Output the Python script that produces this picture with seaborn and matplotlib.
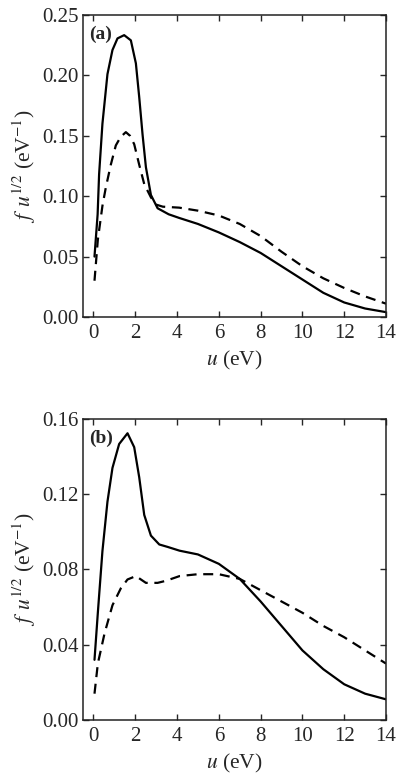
import matplotlib
matplotlib.use("Agg")
import matplotlib.pyplot as plt
import seaborn as sns

# Panel (a)
u_a_solid = [0.05, 0.2, 0.27, 0.43, 0.67, 0.91, 1.15, 1.47, 1.79, 2.03, 2.19, 2.35, 2.51, 2.75, 3.07, 3.6, 4.1,
             5.0, 6.0, 7.0, 8.0, 9.0, 10.0, 11.0, 12.0, 13.0, 14.0]
f_a_solid = [0.050, 0.085, 0.118, 0.160, 0.201, 0.221, 0.2306, 0.2333, 0.229, 0.210, 0.182, 0.151, 0.124, 0.101,
             0.090, 0.085, 0.082, 0.077, 0.070, 0.062, 0.053, 0.042, 0.031, 0.020, 0.012, 0.007, 0.004]
u_a_dash = [0.05, 0.21, 0.43, 0.59, 0.83, 1.07, 1.3, 1.55, 1.75, 1.95, 2.19, 2.43, 2.75, 3.0, 3.32, 4.1,
            5.0, 6.0, 7.0, 8.0, 9.0, 10.0, 11.0, 12.0, 13.0, 14.0]
f_a_dash = [0.030, 0.064, 0.092, 0.107, 0.126, 0.142, 0.149, 0.153, 0.150, 0.143, 0.126, 0.110, 0.099, 0.093,
            0.0913, 0.0905, 0.088, 0.084, 0.077, 0.067, 0.054, 0.042, 0.032, 0.024, 0.017, 0.011]

# Panel (b)
u_b_solid = [0.05, 0.21, 0.27, 0.43, 0.67, 0.91, 1.23, 1.63, 1.95, 2.19, 2.43, 2.75, 3.15, 3.55, 4.12,
             5.0, 6.0, 7.0, 8.0, 9.0, 10.0, 11.0, 12.0, 13.0, 14.0]
f_b_solid = [0.032, 0.057, 0.066, 0.0898, 0.116, 0.134, 0.1467, 0.1524, 0.145, 0.129, 0.109, 0.098, 0.0933, 0.092,
             0.090, 0.088, 0.083, 0.075, 0.063, 0.050, 0.037, 0.027, 0.019, 0.014, 0.011]
u_b_dash = [0.05, 0.21, 0.53, 0.91, 1.31, 1.63, 2.03, 2.51, 3.07, 3.47, 4.12,
            5.0, 6.0, 7.0, 8.0, 9.0, 10.0, 11.0, 12.0, 13.0, 14.0]
f_b_dash = [0.014, 0.030, 0.046, 0.061, 0.070, 0.0747, 0.0765, 0.0729, 0.0729, 0.074, 0.0765,
            0.0775, 0.0775, 0.075, 0.069, 0.063, 0.057, 0.050, 0.044, 0.037, 0.030]

x_ticks = [0, 2, 4, 6, 8, 10, 12, 14]
y_ticks_a = [0.00, 0.05, 0.10, 0.15, 0.20, 0.25]
y_ticks_b = [0.00, 0.04, 0.08, 0.12, 0.16]
panel_labels = ["(a)", "(b)"]

sns.set_style("ticks")
plt.rcParams["font.family"] = ["Liberation Serif", "DejaVu Serif"]
plt.rcParams["mathtext.fontset"] = "stix"
plt.rcParams["xtick.direction"] = "in"
plt.rcParams["ytick.direction"] = "in"
plt.rcParams["xtick.top"] = True
plt.rcParams["ytick.right"] = True

fig = plt.figure(figsize=(3.96, 7.84), dpi=100)
ax_a = fig.add_axes([0.2096, 0.5957, 0.7652, 0.3852])
ax_b = fig.add_axes([0.2096, 0.0816, 0.7652, 0.3840])

panels = [
    (ax_a, u_a_solid, f_a_solid, u_a_dash, f_a_dash, y_ticks_a, (0, 0.25)),
    (ax_b, u_b_solid, f_b_solid, u_b_dash, f_b_dash, y_ticks_b, (0, 0.16)),
]

for i, (ax, us, fs, ud, fd, yt, yl) in enumerate(panels):
    sns.lineplot(x=us, y=fs, ax=ax, color="black", linewidth=1.6, sort=False)
    sns.lineplot(x=ud, y=fd, ax=ax, color="black", linewidth=1.6, sort=False,
                 linestyle=(0, (4.5, 3)))
    ax.set_xlim(-0.5, 14)
    ax.set_ylim(*yl)
    ax.set_xticks(x_ticks)
    ax.set_xticklabels([str(t) for t in x_ticks])
    ax.set_yticks(yt)
    ax.set_yticklabels([f"{t:.2f}" for t in yt])
    ax.tick_params(axis="both", which="major", labelsize=15, length=4, width=1.0,
                   direction="in", top=True, right=True, pad=3)
    ax.tick_params(axis="x", pad=5)
    for s in ax.spines.values():
        s.set_linewidth(1.1)
        s.set_color("#222222")
    ax.set_xlabel(r"$u$ (eV)", fontsize=15.5, labelpad=4)
    ax.set_ylabel(r"$f\;\,u^{1/2}$ (eV$^{-1}$)", fontsize=15.5, labelpad=3)
    ax.text(0.02, 0.965, panel_labels[i], transform=ax.transAxes, fontsize=14,
            fontweight="bold", va="top", ha="left")

fig.savefig("out.png", dpi=100)
